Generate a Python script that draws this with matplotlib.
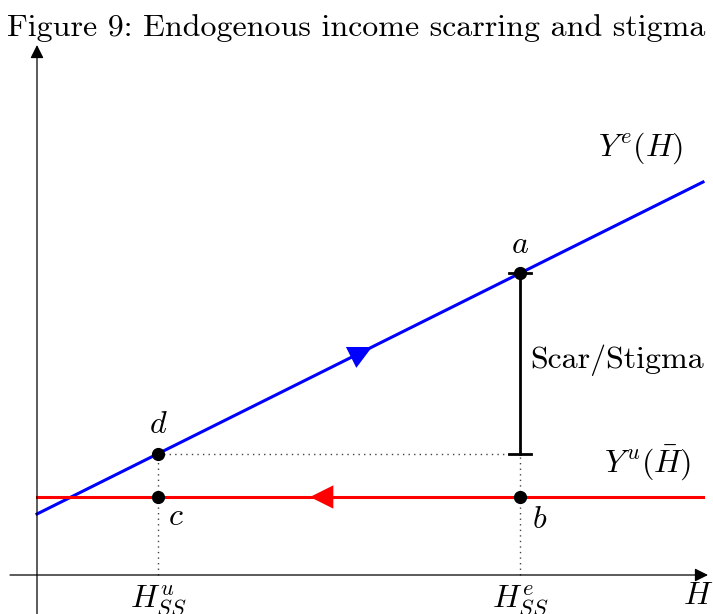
import matplotlib
matplotlib.use("Agg")
import matplotlib.pyplot as plt

plt.rcParams['mathtext.fontset'] = 'cm'
plt.rcParams['font.family'] = ['cmr10', 'DejaVu Serif']

# model values
ye_intercept = 0.61
ye_slope = 0.4985
yu_level = 0.78
h_u = 1.21
h_e = 4.83
h_max = 6.66
blue_arrow_h = 3.20
red_arrow_h = 2.73
x_axis_end = 6.71
y_axis_end = 5.30


def ye(h):
    return ye_intercept + ye_slope * h


fig = plt.figure(figsize=(7.13, 6.14), dpi=100)
ax = fig.add_axes([0, 0, 1, 1])
ax.set_xlim(-0.37, 6.76)
ax.set_ylim(-0.39, 5.75)
ax.axis('off')

# axes with arrows
ax.annotate('', xy=(x_axis_end, 0), xytext=(-0.27, 0),
            arrowprops=dict(arrowstyle='-|>', color='black', lw=0.9,
                            mutation_scale=20, shrinkA=0, shrinkB=0))
ax.annotate('', xy=(0, y_axis_end), xytext=(0, -0.39),
            arrowprops=dict(arrowstyle='-|>', color='black', lw=0.9,
                            mutation_scale=20, shrinkA=0, shrinkB=0))

# dotted guides
dot = dict(color='#444444', lw=1.0, linestyle=(0, (1, 3)))
ax.plot([h_u, h_u], [0, ye(h_u)], **dot)
ax.plot([h_e, h_e], [0, ye(h_u)], **dot)
ax.plot([h_u, h_e], [ye(h_u), ye(h_u)], **dot)

# income lines
ax.plot([0, h_max], [ye(0), ye(h_max)], color='blue', lw=2.2)
ax.plot([0, h_max], [yu_level, yu_level], color='red', lw=2.2)

# direction arrows
ax.annotate('', xy=(blue_arrow_h + 0.15, ye(blue_arrow_h + 0.15)),
            xytext=(blue_arrow_h - 0.1, ye(blue_arrow_h - 0.1)),
            arrowprops=dict(arrowstyle='-|>', color='blue', lw=0,
                            mutation_scale=42, shrinkA=0, shrinkB=0))
ax.annotate('', xy=(red_arrow_h, yu_level),
            xytext=(red_arrow_h + 0.3, yu_level),
            arrowprops=dict(arrowstyle='-|>', color='red', lw=0,
                            mutation_scale=42, shrinkA=0, shrinkB=0))

# scar / stigma bar
ax.plot([h_e, h_e], [ye(h_u), ye(h_e)], color='black', lw=2)
ax.plot([h_e - 0.11, h_e + 0.11], [ye(h_e), ye(h_e)], color='black', lw=2)
ax.plot([h_e - 0.11, h_e + 0.11], [ye(h_u), ye(h_u)], color='black', lw=2)

# points
ax.plot([h_e, h_e, h_u, h_u], [ye(h_e), yu_level, ye(h_u), yu_level],
        'o', color='black', markersize=8.5)

fs = 23
ax.text(h_e, 3.30, r'$a$', fontsize=fs, ha='center', va='center')
ax.text(h_e + 0.2, 0.55, r'$b$', fontsize=fs, ha='center', va='center')
ax.text(h_u + 0.18, 0.58, r'$c$', fontsize=fs, ha='center', va='center')
ax.text(h_u, 1.50, r'$d$', fontsize=fs, ha='center', va='center')
ax.text(4.93, 2.15, 'Scar/Stigma', fontsize=fs, ha='left', va='center')
ax.text(6.03, 4.27, r'$Y^e(H)$', fontsize=fs, ha='center', va='center')
ax.text(6.11, 1.12, r'$Y^u(\bar{H})$', fontsize=fs, ha='center', va='center')
ax.text(h_u, -0.08, r'$H^u_{SS}$', fontsize=fs, ha='center', va='top')
ax.text(h_e, -0.08, r'$H^e_{SS}$', fontsize=fs, ha='center', va='top')
ax.text(6.61, -0.08, r'$H$', fontsize=fs, ha='center', va='top')

fig.text(0.5, 1 - 28 / 614, 'Figure 9: Endogenous income scarring and stigma',
         fontsize=23, ha='center', va='center')

fig.savefig('out.png', dpi=100)
